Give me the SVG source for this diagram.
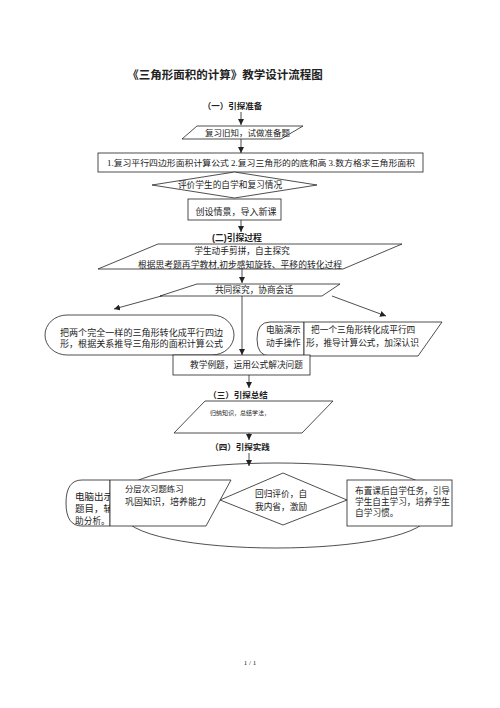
<svg xmlns="http://www.w3.org/2000/svg" width="500" height="708" viewBox="0 0 500 708">
<style>
.s{fill:#fff;stroke:#222;stroke-width:0.8}
.ln{fill:none;stroke:#222;stroke-width:0.8}
text{font-family:"Liberation Serif","Noto Sans CJK SC",serif;fill:#222;font-size:8.7px}
.b{font-family:"Liberation Sans","Noto Sans CJK SC",sans-serif;font-weight:bold}
.m{text-anchor:middle}
</style>
<defs>
<marker id="ah" viewBox="0 0 6 6" refX="6" refY="3" markerWidth="6" markerHeight="6" markerUnits="userSpaceOnUse" orient="auto">
<path d="M0,0 L6,3 L0,6 Z" fill="#222"/>
</marker>
</defs>
<rect width="500" height="708" fill="#fff"/>
<text class="b m" x="225" y="78.5" style="font-size:11.5px">《三角形面积的计算》教学设计流程图</text>

<g id="loop">
<path class="ln" d="M122,496 C122,452 432,452 432,496"/>
<path class="ln" d="M122,512 C122,560 430,560 430,512"/>
</g>

<g id="connectors">
<line class="ln" x1="241" y1="112" x2="241" y2="125" marker-end="url(#ah)"/>
<line class="ln" x1="241" y1="139" x2="241" y2="153" marker-end="url(#ah)"/>
<line class="ln" x1="241" y1="220" x2="241" y2="232" marker-end="url(#ah)"/>
<line class="ln" x1="242" y1="269" x2="242" y2="283" marker-end="url(#ah)"/>
<line class="ln" x1="242" y1="296" x2="242" y2="355" marker-end="url(#ah)"/>
<line class="ln" x1="165" y1="295" x2="114" y2="309" marker-end="url(#ah)"/>
<line class="ln" x1="332" y1="296" x2="386" y2="316" marker-end="url(#ah)"/>
<line class="ln" x1="249" y1="375" x2="249" y2="388" marker-end="url(#ah)"/>
<line class="ln" x1="249" y1="433" x2="249" y2="440" marker-end="url(#ah)"/>
<line class="ln" x1="249" y1="453" x2="249" y2="466" marker-end="url(#ah)"/>
</g>

<g id="h1"><text class="b m" x="232.5" y="109.3" style="font-size:8.5px">（一）引探准备</text></g>

<g id="n1">
<polygon class="s" points="197,126 303,126 281,139 182,139"/>
<text class="m" x="247.5" y="136" style="font-size:8.5px">复习旧知，试做准备题</text>
</g>

<g id="n2">
<rect class="s" x="98" y="153" width="325" height="19"/>
<text x="107" y="166" textLength="308" lengthAdjust="spacingAndGlyphs" style="font-size:8.5px">1.复习平行四边形面积计算公式 2.复习三角形的的底和高 3.数方格求三角形面积</text>
</g>

<g id="n3">
<polygon class="s" points="234.5,172 317,185 234.5,198 152,185"/>
<text class="m" x="230" y="188.3">评价学生的自学和复习情况</text>
</g>

<g id="n4">
<rect class="s" x="188" y="199" width="93" height="21"/>
<text class="m" x="236" y="215.2" style="font-size:9px">创设情景，导入新课</text>
</g>

<g id="h2"><text class="b m" x="237" y="241" style="font-size:8.8px">(二)引探过程</text></g>

<g id="n5">
<polygon class="s" points="158,244 402,244 343,269 98,269"/>
<text class="m" x="242" y="253.8">学生动手剪拼，自主探究</text>
<text class="m" x="240" y="267.6" textLength="204" lengthAdjust="spacingAndGlyphs">根据思考题再学教材,初步感知旋转、平移的转化过程</text>
</g>

<g id="n6">
<polygon class="s" points="197,284 340,284 322,296 160,296"/>
<text class="m" x="254" y="293.3">共同探究，协商会话</text>
</g>

<g id="n7">
<rect class="s" x="45" y="315" width="189" height="40" rx="22" ry="20"/>
<text x="60" y="335.5" textLength="163" lengthAdjust="spacingAndGlyphs">把两个完全一样的三角形转化成平行四边</text>
<text x="60" y="346.5" textLength="163" lengthAdjust="spacingAndGlyphs">形，根据关系推导三角形的面积计算公式</text>
</g>

<g id="n8">
<path class="s" d="M304,322 L270,322 Q257,322 257,339 Q257,356 270,356 L304,356 Z"/>
<polygon class="s" points="304,322 442,322 418,356 304,356"/>
<text x="266" y="332.5">电脑演示</text>
<text x="266" y="346">动手操作</text>
<text x="311" y="332.5">把一个三角形转化成平行四</text>
<text x="306" y="346">形，推导计算公式，加深认识</text>
</g>

<g id="n9">
<rect class="s" x="173" y="355" width="137" height="20"/>
<text class="m" x="246.5" y="368.3">教学例题，运用公式解决问题</text>
</g>

<g id="h3"><text class="b m" x="238" y="398" style="font-size:8.5px">（三）引探总结</text></g>

<g id="n10">
<polygon class="s" points="205,401 333,401 302,433 174,433"/>
<text x="210" y="414.5" style="font-size:6px">归纳知识，总结学法，</text>
</g>

<g id="h4"><text class="b m" x="240" y="450.3" style="font-size:8.5px">（四）引探实践</text></g>

<g id="n11">
<path class="s" d="M110,480 L82,480 Q66,480 66,503 Q66,526 82,526 L110,526 Z"/>
<text x="75" y="500" style="font-size:9.5px">电脑出示</text>
<text x="75" y="512" style="font-size:9.5px">题目，辅</text>
<text x="75" y="524" style="font-size:8.7px">助分析。</text>
</g>

<g id="n12">
<polygon class="s" points="110,480 231,480 206,526 110,526"/>
<text x="125" y="491.5" style="font-size:8.4px">分层次习题练习</text>
<text x="125" y="505" style="font-size:9px">巩固知识，培养能力</text>
</g>

<g id="n13">
<polygon class="s" points="283,473 347,500 283,525 220,500"/>
<text class="m" x="281" y="497.3">回归评价，自</text>
<text class="m" x="281" y="510">我内省，激励</text>
</g>

<g id="n14">
<rect class="s" x="347" y="480" width="105" height="46"/>
<text x="355" y="494" textLength="95" lengthAdjust="spacingAndGlyphs">布置课后自学任务，引导</text>
<text x="355" y="505" textLength="95" lengthAdjust="spacingAndGlyphs">学生自主学习，培养学生</text>
<text x="355" y="516">自学习惯。</text>
</g>

<text class="m" x="250" y="665" style="font-size:7px">1 / 1</text>
</svg>
